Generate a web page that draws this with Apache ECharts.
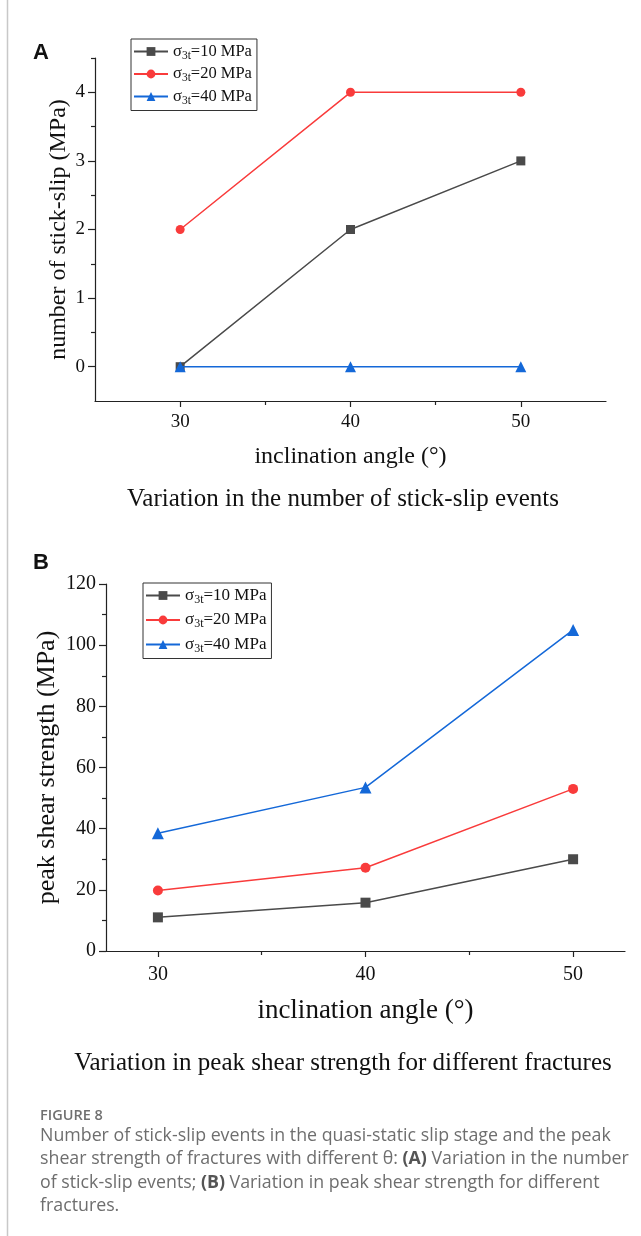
<!DOCTYPE html>
<html>
<head>
<meta charset="utf-8">
<script src="https://cdn.jsdelivr.net/npm/echarts@6/dist/echarts.min.js"></script>
<style>
html,body{margin:0;padding:0;background:#fff;}
#chart{width:641px;height:1236px;}
</style>
</head>
<body>
<div id="chart"></div>
<script>
// ---- data ----
const angles = [30, 40, 50];
const seriesNames = ['σ3t=10 MPa', 'σ3t=20 MPa', 'σ3t=40 MPa'];
const stickSlip10 = [0, 2, 3];
const stickSlip20 = [2, 4, 4];
const stickSlip40 = [0, 0, 0];
const peak10 = [11, 15.8, 30];
const peak20 = [19.8, 27.2, 53];
const peak40 = [38.5, 53.5, 105];
const xMajorTicks = [30, 40, 50];
const xMinorTicks = [35, 45];
const yMajorTicksA = [0, 1, 2, 3, 4];
const yMinorTicksA = [0.5, 1.5, 2.5, 3.5, 4.5];
const yMajorTicksB = [0, 20, 40, 60, 80, 100, 120];
const yMinorTicksB = [10, 30, 50, 70, 90, 110];
const titleA = 'Variation in the number of stick-slip events';
const titleB = 'Variation in peak shear strength for different fractures';
const yNameA = 'number of stick-slip (MPa)';
const yNameB = 'peak shear strength (MPa)';
const xName = 'inclination angle (°)';

const colors = ['#4a4a4a', '#f93b3b', '#1468d8'];
const symbols = ['rect', 'circle', 'triangle'];
const serif = 'Liberation Serif, Times New Roman, serif';

function pairs(vals) { return angles.map((a, i) => [a, vals[i]]); }

function majorX(gridIndex, fs) {
  return {
    type: 'value', gridIndex, position: 'bottom', min: gridIndex === 0 ? 25 : 27.5, max: gridIndex === 0 ? 55 : 52.5,
    axisLine: { show: true, onZero: false, lineStyle: { color: '#222', width: 1.2 } },
    axisTick: { show: true, inside: false, length: 6, lineStyle: { color: '#222', width: 1.2 }, customValues: xMajorTicks },
    axisLabel: { show: true, customValues: xMajorTicks, fontFamily: serif, fontSize: fs, color: '#111', margin: gridIndex === 0 ? 12 : 14 },
    splitLine: { show: false },
    name: xName, nameLocation: 'middle', nameGap: gridIndex === 0 ? 44 : 46, nameMoveOverlap: false,
    nameTextStyle: { fontFamily: serif, fontSize: gridIndex === 0 ? 24 : 27, color: '#111' }
  };
}
function minorX(gridIndex) {
  return {
    type: 'value', gridIndex, position: 'bottom', min: gridIndex === 0 ? 25 : 27.5, max: gridIndex === 0 ? 55 : 52.5,
    axisLine: { show: false, onZero: false },
    axisTick: { show: true, inside: false, length: 4, lineStyle: { color: '#222', width: 1.2 }, customValues: xMinorTicks },
    axisLabel: { show: false }, splitLine: { show: false }
  };
}
function majorY(gridIndex, min, max, ticks, name, fs, nfs, gap) {
  return {
    type: 'value', gridIndex, position: 'left', min, max,
    axisLine: { show: true, onZero: false, lineStyle: { color: '#222', width: 1.2 } },
    axisTick: { show: true, inside: false, length: 7, lineStyle: { color: '#222', width: 1.2 }, customValues: ticks },
    axisLabel: { show: true, customValues: ticks, fontFamily: serif, fontSize: fs, color: '#111', margin: 10 },
    splitLine: { show: false },
    name, nameLocation: 'middle', nameGap: gap, nameMoveOverlap: false,
    nameTextStyle: { fontFamily: serif, fontSize: nfs, color: '#111' }
  };
}
function minorY(gridIndex, min, max, ticks) {
  return {
    type: 'value', gridIndex, position: 'left', offset: 0, min, max,
    axisLine: { show: false, onZero: false },
    axisTick: { show: true, inside: false, length: 4, lineStyle: { color: '#222', width: 1.2 }, customValues: ticks },
    axisLabel: { show: false }, splitLine: { show: false }
  };
}
function legendFmt(name) {
  return '{a|σ}{b|3t}{a|' + name.replace('σ3t', '') + '}';
}
function mkLegend(left, top, fs, gap) {
  return {
    orient: 'vertical', left, top, data: seriesNames,
    itemWidth: 34, itemHeight: 11, itemGap: gap,
    padding: [4, 5, 4, 2],
    borderColor: '#333', borderWidth: 1,
    formatter: legendFmt,
    selectedMode: false,
    textStyle: {
      color: '#111',
      rich: {
        a: { fontFamily: serif, fontSize: fs, lineHeight: 20 },
        b: { fontFamily: serif, fontSize: fs - 5, lineHeight: 10, verticalAlign: 'bottom' }
      }
    }
  };
}
const dataA = [stickSlip10, stickSlip20, stickSlip40];
const dataB = [peak10, peak20, peak40];
const series = [];
dataA.forEach((d, i) => series.push({
  type: 'line', name: seriesNames[i], xAxisIndex: 0, yAxisIndex: 0, data: pairs(d),
  symbol: symbols[i], symbolSize: i === 2 ? 11 : 9, color: colors[i],
  lineStyle: { width: 1.5, color: colors[i] }, itemStyle: { color: colors[i] }, z: 2 + i
}));
dataB.forEach((d, i) => series.push({
  type: 'line', name: seriesNames[i], xAxisIndex: 2, yAxisIndex: 2, data: pairs(d),
  symbol: symbols[i], symbolSize: i === 2 ? 12 : 10, color: colors[i],
  lineStyle: { width: 1.5, color: colors[i] }, itemStyle: { color: colors[i] }, z: 2 + i
}));

const chart = echarts.init(document.getElementById('chart'), null, { renderer: 'canvas' });
chart.setOption({
  animation: false,
  backgroundColor: '#fff',
  grid: [
    { left: 95, right: 35, top: 58, height: 343, containLabel: false },
    { left: 106, right: 16, top: 584, height: 367, containLabel: false }
  ],
  xAxis: [majorX(0, 19), minorX(0), majorX(1, 20), minorX(1)],
  yAxis: [
    majorY(0, -0.5, 4.5, yMajorTicksA, yNameA, 19, 24, 24),
    minorY(0, -0.5, 4.5, yMinorTicksA),
    majorY(1, 0, 120, yMajorTicksB, yNameB, 20, 26, 46),
    minorY(1, 0, 120, yMinorTicksB)
  ],
  legend: [mkLegend(131, 39, 16.5, 4), mkLegend(143, 583, 17, 6)],
  series,
  graphic: [
    { type: 'line', shape: { x1: 7.5, y1: 0, x2: 7.5, y2: 1236 }, style: { stroke: '#c8c8c8', lineWidth: 1.5 } },
    { type: 'text', x: 33, y: 53, style: { text: 'A', font: 'bold 22px Liberation Sans, Arial, sans-serif', fill: '#111', textVerticalAlign: 'middle' } },
    { type: 'text', x: 33, y: 563, style: { text: 'B', font: 'bold 22px Liberation Sans, Arial, sans-serif', fill: '#111', textVerticalAlign: 'middle' } },
    { type: 'text', x: 343, y: 499, style: { text: titleA, font: '25px Liberation Serif, Times New Roman, serif', fill: '#111', textAlign: 'center', textVerticalAlign: 'middle' } },
    { type: 'text', x: 343, y: 1063, style: { text: titleB, font: '25px Liberation Serif, Times New Roman, serif', fill: '#111', textAlign: 'center', textVerticalAlign: 'middle' } },
    { type: 'text', x: 40, y: 1116, style: { text: 'FIGURE 8', font: '600 14.5px Open Sans, sans-serif', fill: '#707070', textVerticalAlign: 'middle' } },
    { type: 'text', x: 40, y: 1124, style: {
      text: 'Number of stick-slip events in the quasi-static slip stage and the peak\nshear strength of fractures with different θ: {b|(A)} Variation in the number\nof stick-slip events; {b|(B)} Variation in peak shear strength for different\nfractures.',
      font: '17.8px Open Sans, sans-serif', fill: '#6e6e6e', lineHeight: 23.5,
      rich: { b: { fontFamily: 'Open Sans, sans-serif', fontSize: 17.8, fontWeight: 'bold', fill: '#555', lineHeight: 23.5 } }
    } }
  ]
});
</script>
</body>
</html>
